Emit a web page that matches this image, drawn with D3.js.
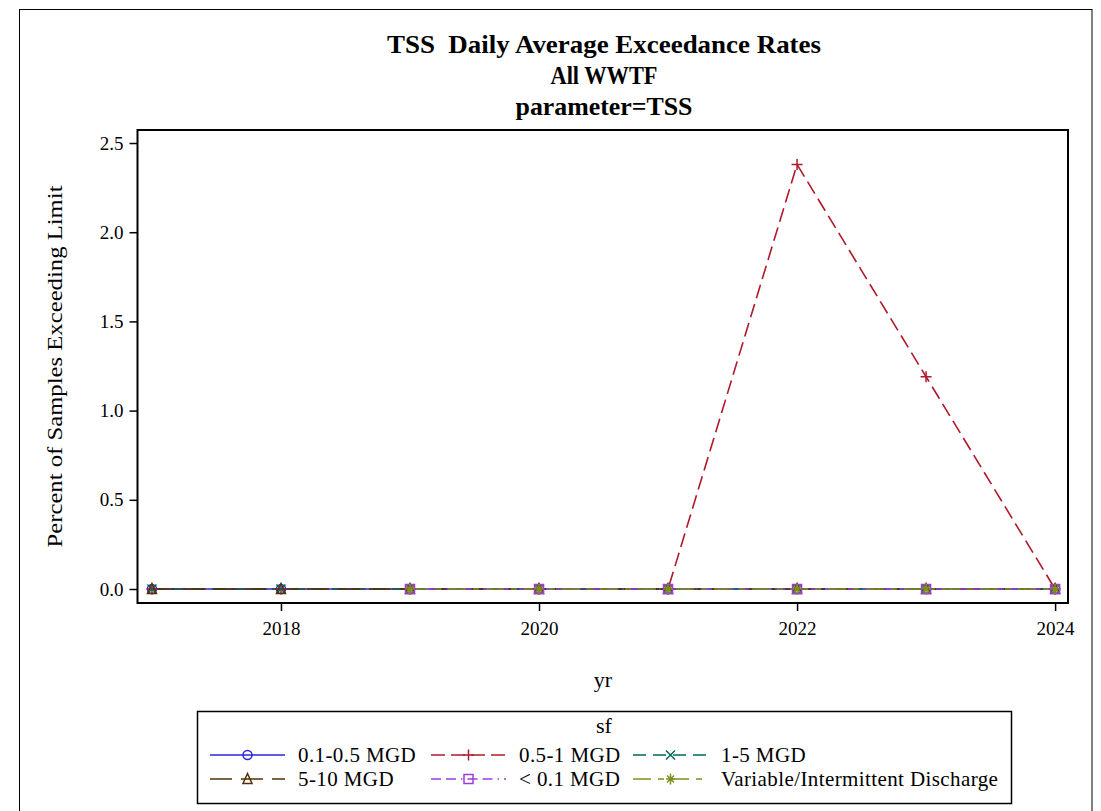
<!DOCTYPE html>
<html>
<head>
<meta charset="utf-8">
<script src="https://cdn.jsdelivr.net/npm/d3@7"></script>
<style>
html,body{margin:0;padding:0;background:#fff;}
svg{display:block;}
text{font-family:"Liberation Serif","Times New Roman",serif;fill:#000;}
</style>
</head>
<body>
<svg id="chart" width="1101" height="811"></svg>
<script>
const years = [2017, 2018, 2019, 2020, 2021, 2022, 2023, 2024];
const seriesNames = ["0.1-0.5 MGD", "0.5-1 MGD", "1-5 MGD", "5-10 MGD", "< 0.1 MGD", "Variable/Intermittent Discharge"];
const v_01_05 = [0, 0, 0, 0, 0, 0, 0, 0];
const v_05_1 = [0, 0, 0, 0, 0, 2.38, 1.19, 0];
const v_1_5 = [0, 0, 0, 0, 0, 0, 0, 0];
const v_5_10 = [0, 0, 0, 0, 0, 0, 0, 0];
const v_lt01 = [null, null, 0, 0, 0, 0, 0, 0];
const v_var = [null, null, 0, 0, 0, 0, 0, 0];
const xTicks = [2018, 2020, 2022, 2024];
const yTicks = [0, 0.5, 1.0, 1.5, 2.0, 2.5];
const titleLines = ["TSS  Daily Average Exceedance Rates", "All WWTF", "parameter=TSS"];

const colors = ["#2A25D9", "#B2182B", "#01665E", "#543005", "#9D3CDB", "#7F8E1F"];
const dashes = [null, "14,6", "13,7", "22,9", "10,5,10,5,1.5,5", "18,7,6,7"];
const symbols = ["circle", "plus", "x", "triangle", "square", "star"];
const values = [v_01_05, v_05_1, v_1_5, v_5_10, v_lt01, v_var];

const svg = d3.select("#chart");

// outer border
svg.append("rect").attr("x", 19.5).attr("y", 9.5).attr("width", 1072.5).attr("height", 820)
  .attr("fill", "none").attr("stroke", "#000").attr("stroke-width", 1);

const L = 137.5, R = 1068, T = 130, B = 603;
const x = d3.scaleLinear().domain([2016.888, 2024.1]).range([L, R]);
const y = d3.scaleLinear().domain([-0.0785, 2.573]).range([B, T]);

// titles
const tY = [53, 84, 115];
const tW = [434, 107, 177];
titleLines.forEach((t, i) => {
  svg.append("text").attr("x", 604).attr("y", tY[i]).attr("text-anchor", "middle")
    .attr("font-size", 25).attr("font-weight", "bold").style("white-space", "pre")
    .attr("textLength", tW[i]).attr("lengthAdjust", "spacingAndGlyphs").text(t);
});

// axes
const xAxis = d3.axisBottom(x).tickValues(xTicks).tickFormat(d3.format("d")).tickSizeOuter(0).tickSize(8).tickPadding(6);
const gx = svg.append("g").attr("transform", `translate(0,${B})`).call(xAxis);
gx.select(".domain").remove();
gx.selectAll("line").attr("stroke", "#000").attr("stroke-width", 1.5);
gx.selectAll("text").attr("font-size", 19).attr("font-family", "Liberation Serif").attr("dy", "0.95em");

const yAxis = d3.axisLeft(y).tickValues(yTicks).tickFormat(d3.format(".1f")).tickSizeOuter(0).tickSize(8).tickPadding(6);
const gy = svg.append("g").attr("transform", `translate(${L},0)`).call(yAxis);
gy.select(".domain").remove();
gy.selectAll("line").attr("stroke", "#000").attr("stroke-width", 1.5);
gy.selectAll("text").attr("font-size", 19).attr("font-family", "Liberation Serif");

// axis labels
svg.append("text").attr("x", 603).attr("y", 687).attr("text-anchor", "middle").attr("font-size", 22).text("yr");
svg.append("text").attr("transform", `translate(62,${(T + B) / 2}) rotate(-90)`).attr("text-anchor", "middle")
  .attr("font-size", 22).attr("textLength", 362).attr("lengthAdjust", "spacingAndGlyphs")
  .text("Percent of Samples Exceeding Limit");

// plot clip
svg.append("defs").append("clipPath").attr("id", "clip").append("rect")
  .attr("x", L).attr("y", T).attr("width", R - L).attr("height", B - T);

function drawMarker(g, type, cx, cy, color) {
  const s = 4.5;
  const common = el => el.attr("stroke", color).attr("stroke-width", 1.5).attr("fill", "none");
  if (type === "circle") common(g.append("circle").attr("cx", cx).attr("cy", cy).attr("r", s));
  else if (type === "square") common(g.append("rect").attr("x", cx - s).attr("y", cy - s).attr("width", 2 * s).attr("height", 2 * s));
  else if (type === "triangle") common(g.append("path").attr("d", `M${cx},${cy - s - 1}L${cx + s},${cy + s}L${cx - s},${cy + s}Z`));
  else if (type === "plus") common(g.append("path").attr("d", `M${cx - s - 1},${cy}H${cx + s + 1}M${cx},${cy - s - 1}V${cy + s + 1}`));
  else if (type === "x") common(g.append("path").attr("d", `M${cx - s},${cy - s}L${cx + s},${cy + s}M${cx - s},${cy + s}L${cx + s},${cy - s}`));
  else if (type === "star") common(g.append("path").attr("d",
    `M${cx - s},${cy}H${cx + s}M${cx},${cy - s - 1}V${cy + s + 1}M${cx - s + 1},${cy - s + 1}L${cx + s - 1},${cy + s - 1}M${cx - s + 1},${cy + s - 1}L${cx + s - 1},${cy - s + 1}`));
}

const plotG = svg.append("g").attr("clip-path", "url(#clip)");
const line = d3.line().defined(d => d.v !== null).x(d => x(d.yr)).y(d => y(d.v));
values.forEach((vals, i) => {
  const pts = years.map((yr, j) => ({ yr, v: vals[j] }));
  const p = plotG.append("path").datum(pts).attr("d", line).attr("fill", "none")
    .attr("stroke", colors[i]).attr("stroke-width", 1.6);
  if (dashes[i]) p.attr("stroke-dasharray", dashes[i]);
});
values.forEach((vals, i) => {
  const g = svg.append("g");
  years.forEach((yr, j) => {
    if (vals[j] !== null) drawMarker(g, symbols[i], x(yr), y(vals[j]), colors[i]);
  });
});

// frame
svg.append("rect").attr("x", L).attr("y", T).attr("width", R - L).attr("height", B - T)
  .attr("fill", "none").attr("stroke", "#000").attr("stroke-width", 2);

// legend
svg.append("rect").attr("x", 197.5).attr("y", 711.5).attr("width", 814).attr("height", 92)
  .attr("fill", "none").attr("stroke", "#000").attr("stroke-width", 1.5);
svg.append("text").attr("x", 604).attr("y", 733).attr("text-anchor", "middle").attr("font-size", 22).text("sf");
const colX = [210, 431, 633];
const rowY = [755, 779];
seriesNames.forEach((name, i) => {
  const cx = colX[i % 3], cy = rowY[Math.floor(i / 3)];
  const g = svg.append("g");
  const ln = g.append("line").attr("x1", cx).attr("x2", cx + 75).attr("y1", cy).attr("y2", cy)
    .attr("stroke", colors[i]).attr("stroke-width", 1.6);
  if (dashes[i]) ln.attr("stroke-dasharray", dashes[i]);
  drawMarker(g, symbols[i], cx + 37.5, cy, colors[i]);
  svg.append("text").attr("x", cx + 88).attr("y", cy + 7).attr("font-size", 21)
    .attr("letter-spacing", 0.4).text(name);
});
</script>
</body>
</html>
